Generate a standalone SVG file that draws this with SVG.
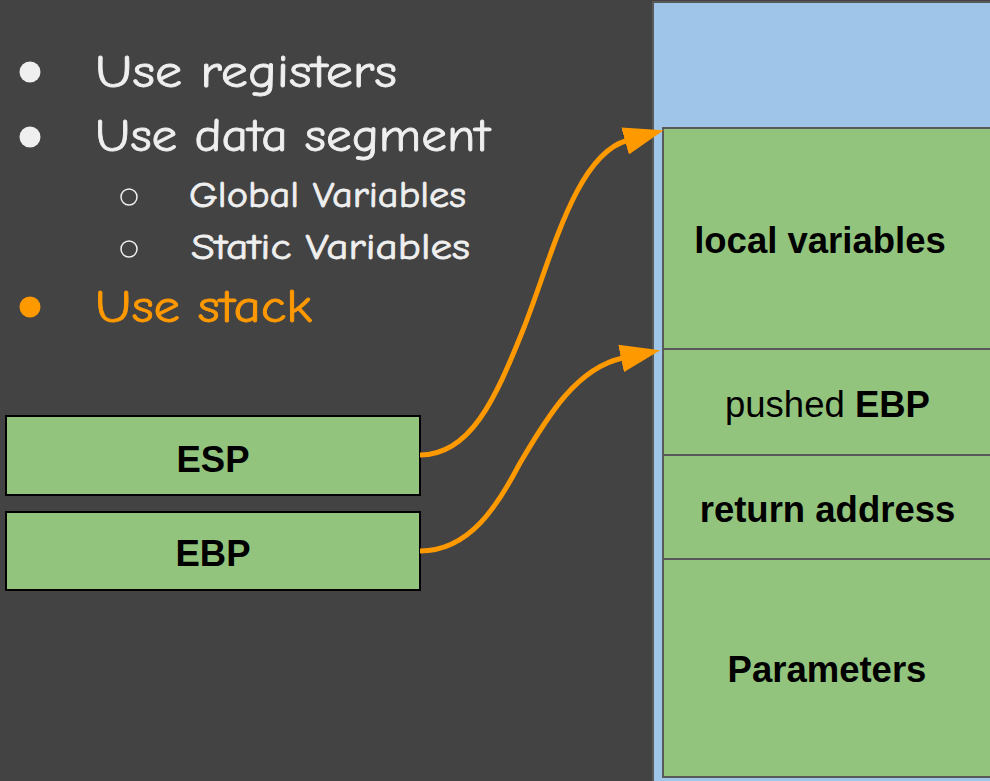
<svg xmlns="http://www.w3.org/2000/svg" width="990" height="781" viewBox="0 0 990 781">
<defs>
<style>
.bg{fill:#434343}
.stack{fill:#9fc5e8;stroke:#595959;stroke-width:2}
.cell{fill:#93c47d;stroke:#595959;stroke-width:2}
.reg{fill:#93c47d;stroke:#000;stroke-width:2}
.lbl{font-family:"Liberation Sans",Arial,sans-serif;font-size:36.5px;fill:#000;text-anchor:middle}
.b{font-weight:bold}
.bul{font-family:"Comic Sans MS","Comic Neue","Noto Sans",sans-serif;fill:#efefef;stroke:#efefef;stroke-width:0.8}
.org{fill:#ff9900;stroke:#ff9900}
.conn{fill:none;stroke:#ff9900;stroke-width:5}
</style>
<marker id="ah" viewBox="0 0 40 28" refX="2" refY="14" markerWidth="40" markerHeight="28" markerUnits="userSpaceOnUse" orient="auto">
<path d="M0,0 L40,14 L0,28 z" fill="#ff9900"/>
</marker>
</defs>
<rect class="bg" x="0" y="0" width="990" height="781"/>
<g id="bullets">
<circle cx="30" cy="72" r="10.5" fill="#efefef"/>
<text class="bul" x="95" y="87" font-size="47" textLength="302" lengthAdjust="spacingAndGlyphs">Use registers</text>
<circle cx="30" cy="137" r="10.5" fill="#efefef"/>
<text class="bul" x="95" y="151" font-size="47" textLength="395" lengthAdjust="spacingAndGlyphs">Use data segment</text>
<circle cx="129" cy="197" r="8" fill="none" stroke="#efefef" stroke-width="1.5"/>
<text class="bul" x="189" y="207" font-size="36" textLength="277" lengthAdjust="spacingAndGlyphs">Global Variables</text>
<circle cx="129" cy="249" r="8" fill="none" stroke="#efefef" stroke-width="1.5"/>
<text class="bul" x="191" y="259" font-size="36" textLength="279" lengthAdjust="spacingAndGlyphs">Static Variables</text>
<circle cx="30" cy="307" r="10.5" fill="#ff9900"/>
<text class="bul org" x="95" y="322" font-size="47" textLength="217" lengthAdjust="spacingAndGlyphs">Use stack</text>
</g>
<g id="stack">
<rect class="stack" x="653" y="2" width="345" height="785"/>
</g>
<g id="local-variables">
<rect class="cell" x="663" y="128" width="335" height="221"/>
<text class="lbl b" x="820" y="253">local variables</text>
</g>
<g id="pushed-ebp">
<rect class="cell" x="663" y="349" width="335" height="106"/>
<text class="lbl" x="827.5" y="417">pushed <tspan class="b">EBP</tspan></text>
</g>
<g id="return-address">
<rect class="cell" x="663" y="455" width="335" height="104"/>
<text class="lbl b" x="827.5" y="522">return address</text>
</g>
<g id="parameters">
<rect class="cell" x="663" y="559" width="335" height="218"/>
<text class="lbl b" x="827" y="682">Parameters</text>
</g>
<g id="esp">
<rect class="reg" x="6" y="416" width="414" height="79"/>
<text class="lbl b" x="213" y="472">ESP</text>
</g>
<g id="ebp">
<rect class="reg" x="6" y="512" width="414" height="78"/>
<text class="lbl b" x="213" y="566">EBP</text>
</g>
<g id="connectors">
<path class="conn" d="M420,455 C470,455 495,400 523,330 C551,260 575,155 627,140.5" marker-end="url(#ah)"/>
<path class="conn" d="M420,551 C470,551 498,505 520,463 C545,421 575,368 623,358" marker-end="url(#ah)"/>
</g>
</svg>
